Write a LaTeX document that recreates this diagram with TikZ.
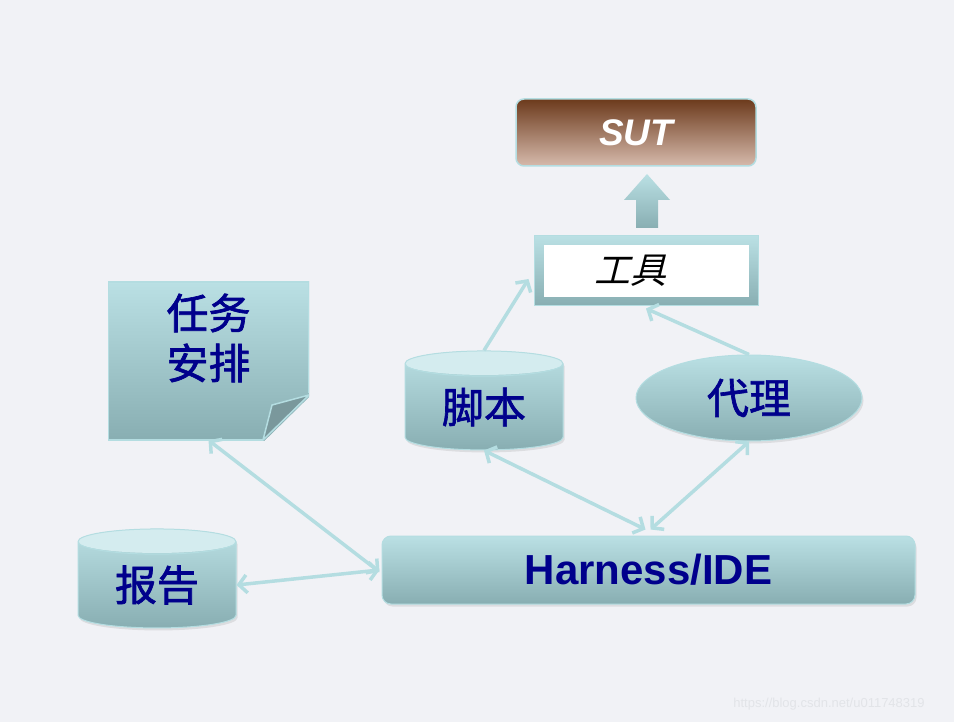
\documentclass[tikz,border=0pt]{standalone}
\usepackage{fontspec}
\setmainfont{Liberation Sans}
\newfontfamily\cjk[FakeBold=1.6]{Noto Sans CJK SC}
\newfontfamily\cjkslant[FakeSlant=0.25]{Noto Sans CJK SC}
\usetikzlibrary{arrows.meta, shapes.geometric, shadows}

\definecolor{bgc}{RGB}{241,242,246}
\definecolor{linec}{RGB}{180,221,225}
\definecolor{shtop}{RGB}{186,224,228}
\definecolor{shbot}{RGB}{136,174,178}
\definecolor{capc}{RGB}{212,236,239}
\definecolor{foldc}{RGB}{122,152,156}
\definecolor{navy}{RGB}{0,0,140}
\definecolor{suttop}{RGB}{108,58,28}
\definecolor{sutmid}{RGB}{198,148,106}
\definecolor{sutbot}{RGB}{214,186,172}
\definecolor{markc}{RGB}{226,228,232}

\begin{document}
\begin{tikzpicture}[x=1pt, y=-1pt,
  >={Straight Barb[length=8pt,width=18pt]},
  link/.style={draw=linec, line width=3.5pt},
  soft/.style={drop shadow={shadow xshift=1.5pt, shadow yshift=-2.5pt, opacity=0.18}},
  shade/.style={top color=shtop, bottom color=shbot, draw=linec, line width=1pt},
  cjktext/.style={text=navy, font=\cjk\fontsize{42}{50}\selectfont, align=center},
  sutbox/.style={rounded corners=8pt, minimum width=240pt, minimum height=67pt,
                 top color=suttop, middle color=sutmid, bottom color=sutbot,
                 draw=linec, line width=1.5pt, text=white,
                 font=\bfseries\itshape\fontsize{37}{40}\selectfont},
  toolbox/.style={shade, minimum width=224pt, minimum height=70pt,
                  font=\cjkslant\fontsize{36}{40}\selectfont,
                  path picture={\fill[white]
                    ([shift={(10pt,9pt)}]path picture bounding box.south west) rectangle
                    ([shift={(-9pt,-9pt)}]path picture bounding box.north east);}},
  notebox/.style={top color=shtop, bottom color=shbot, minimum width=201pt,
                  minimum height=158pt,
                  path picture={
                    \filldraw[fill=foldc, draw=linec, line width=1.5pt]
                      ([yshift=45pt]path picture bounding box.south east)
                      -- ([shift={(-37pt,35pt)}]path picture bounding box.south east)
                      -- ([xshift=-46pt]path picture bounding box.south east) -- cycle;
                    \draw[linec, line width=2pt]
                      ([xshift=-46pt]path picture bounding box.south east)
                      -- (path picture bounding box.south west)
                      -- (path picture bounding box.north west)
                      -- (path picture bounding box.north east)
                      -- ([yshift=47pt]path picture bounding box.south east);
                    \node[cjktext] at ([yshift=23pt]path picture bounding box.center)
                      {任务\\安排};}},
  drum/.style={cylinder, shape border rotate=90, aspect=0.3, shade, soft,
               cjktext, minimum width=158pt, minimum height=99pt, inner sep=0pt,
               path picture={\fill[capc] ([yshift=-12pt]path picture bounding box.north)
                 ellipse [x radius=80pt, y radius=12pt];}},
  oval/.style={ellipse, shade, soft, cjktext, minimum width=226pt,
               minimum height=86pt, inner sep=0pt},
  ide/.style={rounded corners=9pt, shade, soft, minimum width=533pt,
              minimum height=68pt, text=navy,
              font=\bfseries\fontsize{42}{46}\selectfont}
]
  \useasboundingbox (0,0) rectangle (954,722);
  \fill[bgc] (0,0) rectangle (954,722);

  \node[sutbox] (sut) at (636,132.5) {SUT};
  \node[toolbox] (tool) at (646,271) {\hspace*{-32pt}工具};
  \node[notebox] (task) at (208.5,361) {};
  % cut corner of the note
  \fill[bgc] ([shift={(1pt,44pt)}]task.south east) -- ([shift={(2pt,-2pt)}]task.south east)
    -- ([shift={(-45pt,-1pt)}]task.south east) -- cycle;
  \node[drum] (report) at (157,585) {报告};
  \node[drum] (script) at (484,407) {脚本};
  \node[oval] (agent) at (749,398) {代理};
  \node[ide] (ide) at (648.5,570) {Harness/IDE};

  % block arrow from tool up to SUT
  \path[shade, draw=none] (636,228) -- (636,200) -- (624,200) -- (647,174)
    -- (670,200) -- (658,200) -- (658,228) -- cycle;

  \draw[link, ->] (script.north) -- ([xshift=-5pt, yshift=-8pt]tool.west);
  \draw[link, ->] (agent.north) -- ([yshift=-2pt]tool.south);
  \draw[link, <->] (task.south) -- ([xshift=-2pt, yshift=-2pt]ide.west);
  \draw[link, <->] (report.east) -- ([xshift=-2pt]ide.west);
  \draw[link, <->] (script.south) -- ([xshift=-3pt, yshift=6pt]ide.north);
  \draw[link, <->] (agent.south) -- ([xshift=2pt, yshift=6pt]ide.north);

  \node[text=markc, font=\fontsize{13}{15}\selectfont] (mark) at (829,704)
    {https://blog.csdn.net/u011748319};
\end{tikzpicture}
\end{document}
